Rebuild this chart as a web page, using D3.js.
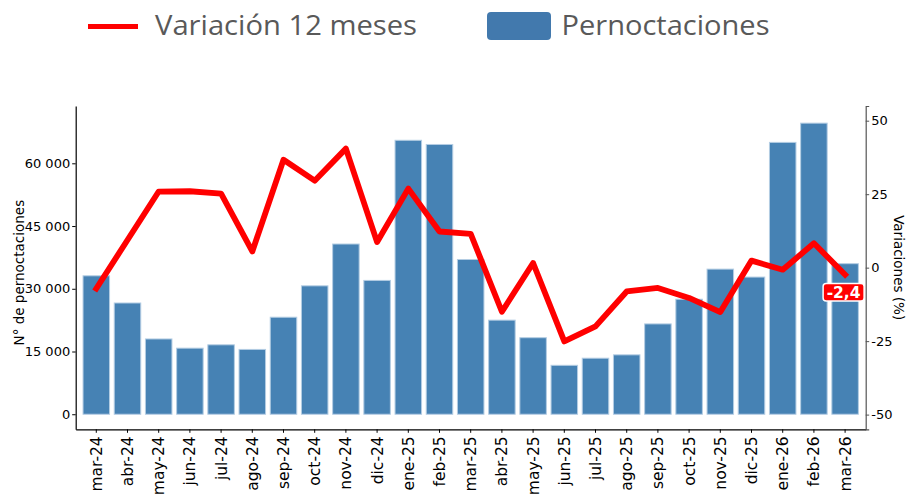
<!DOCTYPE html>
<html>
<head>
<meta charset="utf-8">
<script src="https://cdn.jsdelivr.net/npm/d3@7"></script>
<style>
  body { margin: 0; background: #fff; }
  svg { display: block; }
  .tick text { font-family: "DejaVu Sans", sans-serif; fill: #000; }
</style>
</head>
<body>
<div id="chart-area"></div>
<script>
// months shown on the x axis
var months = ["mar-24", "abr-24", "may-24", "jun-24", "jul-24", "ago-24", "sep-24", "oct-24",
    "nov-24", "dic-24", "ene-25", "feb-25", "mar-25", "abr-25", "may-25", "jun-25", "jul-25",
    "ago-25", "sep-25", "oct-25", "nov-25", "dic-25", "ene-26", "feb-26", "mar-26"];

// overnight stays (bars, left axis)
var pernoctaciones = [33100, 26600, 18000, 15800, 16600, 15500, 23200, 30700,
    40700, 32000, 65500, 64500, 37000, 22500, 18300, 11700, 13400,
    14200, 21600, 27500, 34700, 32800, 65000, 69600, 36000];

// 12 month variation in % (line, right axis)
var variacion = [-7.1, 9.4, 25.9, 26.0, 25.2, 5.5, 36.7, 29.6,
    40.5, 8.7, 26.9, 12.3, 11.5, -15.0, 1.6, -25.1, -20.0,
    -8.1, -6.9, -10.3, -15.1, 2.4, -0.7, 8.3, -2.4];

var leftTicks = [0, 15000, 30000, 45000, 60000];
var rightTicks = [-50, -25, 0, 25, 50];

var width = 907, height = 496;
var plot = {left: 75.7, right: 865.7, top: 106, bottom: 429.3};

var svg = d3.select("#chart-area")
    .append("svg")
    .attr("width", width)
    .attr("height", height);

var x = d3.scaleBand()
    .domain(months)
    .range([plot.left, plot.right])
    .paddingInner(0.15)
    .paddingOuter(0.235);

var yLeft = d3.scaleLinear()
    .domain([-3600, 73700])
    .range([plot.bottom, plot.top]);

var yRight = d3.scaleLinear()
    .domain([-55, 55])
    .range([plot.bottom, plot.top]);

// spanish style numbers: "60 000", "-2,4" (plain hyphen as minus)
var es = d3.formatLocale({decimal: ",", thousands: " ", grouping: [3], currency: ["", "€"], minus: "-"});
var fmtThousands = es.format(",d");
var fmtInt = es.format("d");
var fmtPct = es.format(".1f");

// bars
svg.selectAll(".bar")
    .data(pernoctaciones)
    .enter()
    .append("rect")
    .attr("class", "bar")
    .attr("x", function(d, i) { return x(months[i]); })
    .attr("width", x.bandwidth())
    .attr("y", function(d) { return yLeft(d); })
    .attr("height", function(d) { return yLeft(0) - yLeft(d); })
    .attr("fill", "#4682b4")
    .attr("stroke", "#b4cde3")
    .attr("stroke-width", 1);

// variation line
var line = d3.line()
    .x(function(d, i) { return x(months[i]) + x.bandwidth() / 2; })
    .y(function(d) { return yRight(d); });

svg.append("path")
    .datum(variacion)
    .attr("d", line)
    .attr("fill", "none")
    .attr("stroke", "#ff0000")
    .attr("stroke-width", 5.8)
    .attr("stroke-linejoin", "round")
    .attr("stroke-linecap", "square");

// axes
var xAxis = svg.append("g")
    .attr("transform", "translate(0," + plot.bottom + ")")
    .call(d3.axisBottom(x).tickSize(3.5).tickSizeOuter(0));

xAxis.selectAll(".tick text")
    .attr("transform", "rotate(-90)")
    .attr("text-anchor", "end")
    .attr("x", -7)
    .attr("y", 0)
    .attr("dy", "0.35em")
    .style("font-size", "15.5px");

var leftAxis = svg.append("g")
    .attr("transform", "translate(" + plot.left + ",0)")
    .call(d3.axisLeft(yLeft).tickValues(leftTicks).tickFormat(fmtThousands).tickSize(3.5).tickSizeOuter(0));

leftAxis.selectAll(".tick text").style("font-size", "13px").attr("x", -5.5);

var rightAxis = svg.append("g")
    .attr("transform", "translate(" + plot.right + ",0)")
    .call(d3.axisRight(yRight).tickValues(rightTicks).tickFormat(fmtInt).tickSizeOuter(0).tickSize(3.5));

rightAxis.selectAll(".tick text").style("font-size", "13px").attr("x", 5.5);

// spines
xAxis.select(".domain").attr("stroke", "#000").attr("stroke-width", 1.2);
leftAxis.select(".domain").attr("stroke", "#000").attr("stroke-width", 1.2);
rightAxis.select(".domain").attr("stroke", "#555").attr("stroke-width", 1.2);
rightAxis.selectAll(".tick line").attr("stroke", "#555");

// axis titles
svg.append("text")
    .attr("transform", "translate(19," + ((plot.top + plot.bottom) / 2 + 5) + ") rotate(-90)")
    .attr("text-anchor", "middle")
    .attr("dy", "0.35em")
    .style("font-family", "DejaVu Sans, sans-serif")
    .style("font-size", "13.5px")
    .text("N° de pernoctaciones");

svg.append("text")
    .attr("transform", "translate(898.5," + ((plot.top + plot.bottom) / 2 + 0) + ") rotate(90)")
    .attr("text-anchor", "middle")
    .attr("dy", "0.35em")
    .style("font-family", "DejaVu Sans, sans-serif")
    .style("font-size", "13.5px")
    .text("Variaciones (%)");

// last value label
var lastI = variacion.length - 1;
var lx = x(months[lastI]) + x.bandwidth() / 2 - 1.5;
var ly = yRight(variacion[lastI]) + 17.5;
var lbl = svg.append("g").attr("transform", "translate(" + lx + "," + ly + ")");
lbl.append("rect")
    .attr("x", -20.5)
    .attr("y", -8.8)
    .attr("width", 41)
    .attr("height", 17.6)
    .attr("rx", 3)
    .attr("fill", "#ff0000")
    .attr("stroke", "#fff")
    .attr("stroke-width", 1.5);
lbl.append("text")
    .attr("text-anchor", "middle")
    .attr("dy", "0.36em")
    .attr("fill", "#fff")
    .style("font-family", "DejaVu Sans, sans-serif")
    .style("font-weight", "bold")
    .style("font-size", "15.5px")
    .text(fmtPct(variacion[lastI]));

// legend
var legend = svg.append("g").attr("class", "legend");
legend.append("line")
    .attr("x1", 88).attr("x2", 138)
    .attr("y1", 26.5).attr("y2", 26.5)
    .attr("stroke", "#ff0000")
    .attr("stroke-width", 5);
legend.append("text")
    .attr("x", 155)
    .attr("y", 34.5)
    .attr("textLength", 262)
    .attr("lengthAdjust", "spacingAndGlyphs")
    .attr("fill", "#595959")
    .style("font-family", "'Liberation Sans Narrow', 'Open Sans', sans-serif")
    .style("font-size", "28px")
    .text("Variación 12 meses");
legend.append("rect")
    .attr("x", 487).attr("y", 12)
    .attr("width", 64).attr("height", 28)
    .attr("rx", 4)
    .attr("fill", "#4279ad");
legend.append("text")
    .attr("x", 561.5)
    .attr("y", 34.5)
    .attr("textLength", 208)
    .attr("lengthAdjust", "spacingAndGlyphs")
    .attr("fill", "#595959")
    .style("font-family", "'Liberation Sans Narrow', 'Open Sans', sans-serif")
    .style("font-size", "28px")
    .text("Pernoctaciones");
</script>
</body>
</html>
